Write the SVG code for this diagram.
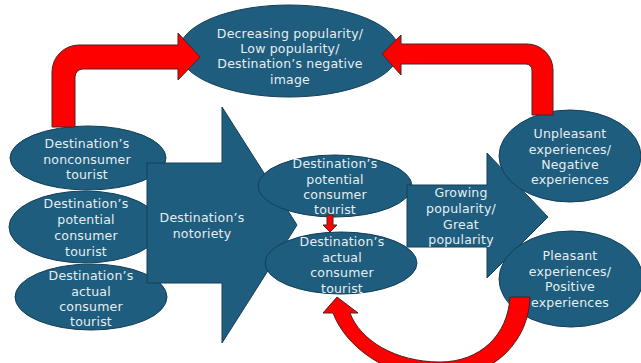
<svg xmlns="http://www.w3.org/2000/svg" width="641" height="363" viewBox="0 0 641 363">
  <style>
    .shape { fill: #1e5d7d; stroke: #143f56; stroke-width: 1; }
    .lbl { font-family: "DejaVu Sans", Verdana, sans-serif; font-size: 12.5px; letter-spacing: 0.2px; fill: #e6eef2; text-anchor: middle; }
    .red { fill: #fe0000; stroke: #4a2626; stroke-width: 1; stroke-linejoin: miter; }
  </style>
  <rect width="641" height="363" fill="#ffffff"/>

  <!-- left column: tourist categories -->
  <g id="nonconsumer">
    <ellipse class="shape" cx="88" cy="158" rx="78" ry="32"/>
    <text class="lbl" x="87" y="147.5">Destination’s</text>
    <text class="lbl" x="87" y="163.5">nonconsumer</text>
    <text class="lbl" x="87" y="178.5">tourist</text>
  </g>
  <g id="potential-left">
    <ellipse class="shape" cx="85" cy="227" rx="76" ry="36"/>
    <text class="lbl" x="86" y="207.5">Destination’s</text>
    <text class="lbl" x="86" y="223.5">potential</text>
    <text class="lbl" x="86" y="239.5">consumer</text>
    <text class="lbl" x="86" y="255.5">tourist</text>
  </g>
  <g id="actual-left">
    <ellipse class="shape" cx="91" cy="297" rx="76" ry="33"/>
    <text class="lbl" x="91" y="279.5">Destination’s</text>
    <text class="lbl" x="91" y="295.5">actual</text>
    <text class="lbl" x="91" y="311">consumer</text>
    <text class="lbl" x="91" y="326">tourist</text>
  </g>

  <!-- big block arrow: notoriety -->
  <g id="notoriety">
    <path class="shape" d="M147 163 L222 163 L222 107 L297 225 L222 343 L222 283 L147 283 Z"/>
    <text class="lbl" x="202" y="221.5">Destination’s</text>
    <text class="lbl" x="202" y="237.5">notoriety</text>
  </g>

  <!-- middle pair -->
  <g id="potential-mid">
    <ellipse class="shape" cx="335" cy="186" rx="77" ry="31"/>
    <text class="lbl" x="335" y="167.5">Destination’s</text>
    <text class="lbl" x="335" y="183.5">potential</text>
    <text class="lbl" x="335" y="198.5">consumer</text>
    <text class="lbl" x="335" y="213.5">tourist</text>
  </g>
  <g id="actual-mid">
    <ellipse class="shape" cx="341" cy="263" rx="76" ry="31"/>
    <text class="lbl" x="342" y="245.5">Destination’s</text>
    <text class="lbl" x="342" y="261.5">actual</text>
    <text class="lbl" x="342" y="277">consumer</text>
    <text class="lbl" x="342" y="292.5">tourist</text>
  </g>

  <!-- block arrow: growing popularity -->
  <g id="growing">
    <path class="shape" d="M407 185 L487 185 L487 153 L548 217 L487 278 L487 247 L407 247 Z"/>
    <text class="lbl" x="461" y="196.5">Growing</text>
    <text class="lbl" x="461" y="213">popularity/</text>
    <text class="lbl" x="461" y="228.5">Great</text>
    <text class="lbl" x="461" y="243.5">popularity</text>
  </g>

  <!-- right column: experiences -->
  <g id="unpleasant">
    <ellipse class="shape" cx="570" cy="156" rx="71" ry="46"/>
    <text class="lbl" x="570" y="137.5">Unpleasant</text>
    <text class="lbl" x="570" y="153.5">experiences/</text>
    <text class="lbl" x="570" y="168.5">Negative</text>
    <text class="lbl" x="570" y="183.5">experiences</text>
  </g>
  <g id="pleasant">
    <ellipse class="shape" cx="571" cy="279" rx="72" ry="48"/>
    <text class="lbl" x="570" y="259.5">Pleasant</text>
    <text class="lbl" x="570" y="275.5">experiences/</text>
    <text class="lbl" x="570" y="290.5">Positive</text>
    <text class="lbl" x="570" y="306.5">experiences</text>
  </g>

  <!-- top: decreasing popularity -->
  <g id="decreasing">
    <ellipse class="shape" cx="289" cy="51" rx="110" ry="46"/>
    <text class="lbl" x="290" y="37.5">Decreasing popularity/</text>
    <text class="lbl" x="290" y="52.5">Low popularity/</text>
    <text class="lbl" x="290" y="68">Destination’s negative</text>
    <text class="lbl" x="290" y="83.5">image</text>
  </g>

  <!-- red connectors -->
  <g id="connectors">
    <path class="red" d="M52 127 L52 72 A27 27 0 0 1 79 45 L178 45 L178 33 L200 57 L178 80 L178 69 L83 69 A8 8 0 0 0 75 77 L75 127 Z"/>
    <path class="red" d="M553 115 L553 70 A26 26 0 0 0 527 44 L401 44 L401 35 L382 54 L401 75 L401 64 L526 64 A6 6 0 0 1 532 70 L532 115 Z"/>
    <path class="red" d="M327 215 L333 215 L333 225 L337 225 L330 232 L323 225 L327 225 Z"/>
    <path class="red" d="M530 297 C529 340 495 378 440 378 C385 378 345 345 333 313 L323 313 L337 297 L358 313 L350 313 C360 340 395 362 440 362 C480 362 508 335 510 297 Z"/>
  </g>
</svg>
